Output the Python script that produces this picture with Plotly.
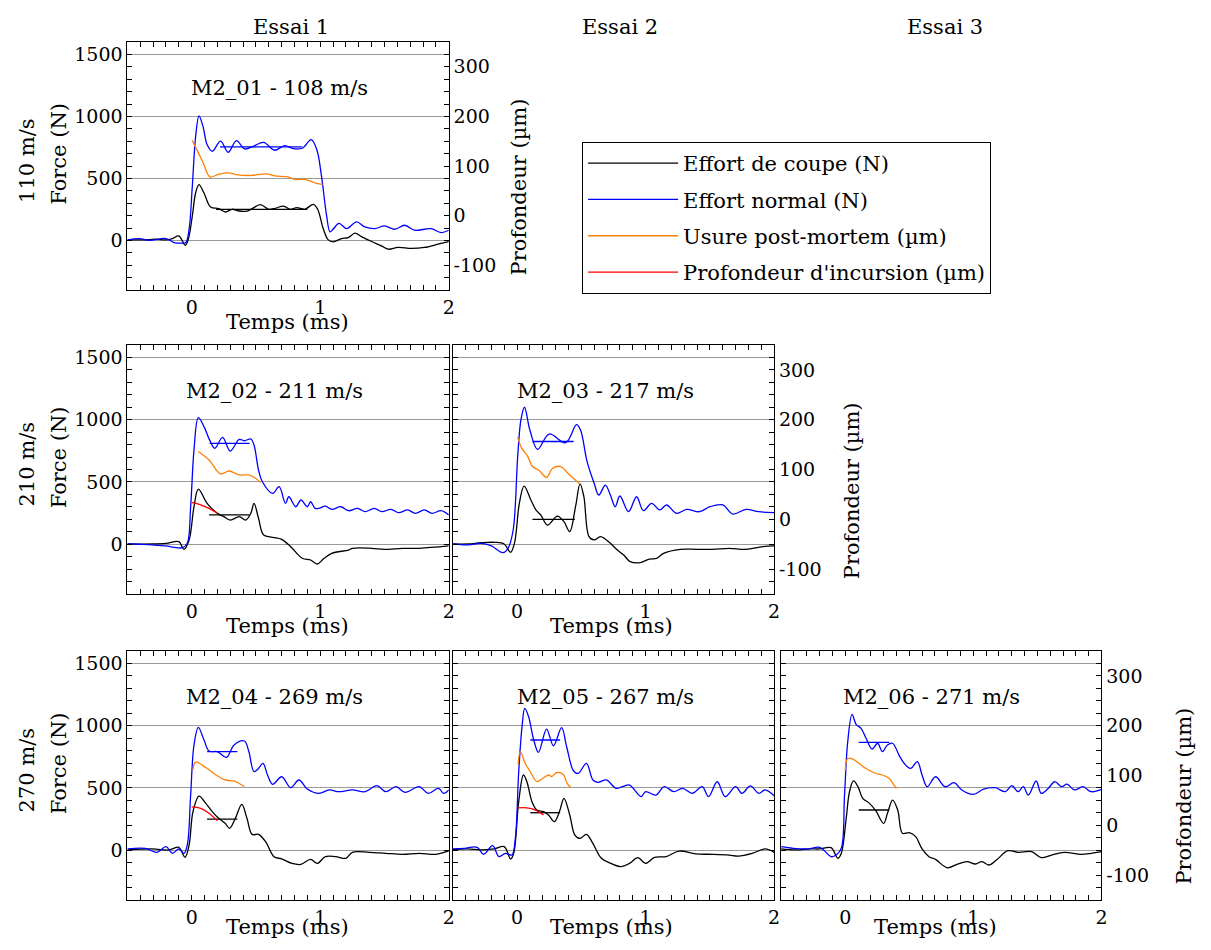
import plotly.graph_objects as go

# page body has an 8 px margin: the figure is sized to fit inside the window
OFF = 8
W, H = 1195, 934
FONT = "DejaVu Serif"

# ---------------- labels ----------------
essais = ["Essai 1", "Essai 2", "Essai 3"]
vitesses = ["110 m/s", "210 m/s", "270 m/s"]
series_names = ["Effort de coupe (N)", "Effort normal (N)",
                "Usure post-mortem (µm)", "Profondeur d'incursion (µm)"]
series_colors = ["#000000", "#0000ff", "#ff8000", "#ff0000"]
force_ticks = [0, 500, 1000, 1500]
depth_ticks = [-100, 0, 100, 200, 300]
time_ticks = [0, 1, 2]

# ---------------- M2_01 (110 m/s, essai 1) ----------------
m2_01_coupe = [(-0.5, 4), (-0.38, 4), (-0.28, 10), (-0.2, 4), (-0.15, 15), (-0.1, 36), (-0.05, -39),
               (-0.026, 10), (0.005, 197), (0.031, 384), (0.057, 449), (0.095, 384), (0.147, 269),
               (0.21, 256), (0.263, 229), (0.315, 251), (0.366, 237), (0.43, 237), (0.47, 256),
               (0.534, 288), (0.6, 251), (0.65, 259), (0.715, 277), (0.766, 251), (0.818, 264),
               (0.88, 251), (0.947, 291), (0.98, 251), (1.025, 90), (1.063, 4), (1.1, -12),
               (1.166, 15), (1.218, 23), (1.27, 58), (1.32, 31), (1.4, -9), (1.476, -44),
               (1.53, -71), (1.605, -57), (1.71, -65), (1.81, -57), (1.915, -31), (2.0, -9)]
m2_01_normal = [(-0.5, 4), (-0.41, 15), (-0.33, 0), (-0.2, 15), (-0.137, -17), (-0.085, -22),
                (-0.046, -17), (-0.02, 90), (0.005, 438), (0.031, 840), (0.057, 1005), (0.088, 920),
                (0.12, 773), (0.16, 719), (0.225, 800), (0.284, 711), (0.348, 805), (0.413, 738),
                (0.48, 759), (0.56, 791), (0.645, 727), (0.723, 765), (0.79, 741), (0.86, 743),
                (0.93, 813), (0.973, 733), (1.01, 518), (1.05, 197), (1.076, 69), (1.1, 90),
                (1.146, 138), (1.205, 95), (1.283, 149), (1.347, 109), (1.425, 95), (1.5, 117),
                (1.58, 90), (1.657, 122), (1.734, 82), (1.81, 90), (1.863, 95), (1.94, 63), (2.0, 82)]
m2_01_usure = [(0.003, 152), (0.04, 133), (0.09, 106), (0.142, 78), (0.207, 83), (0.284, 86),
               (0.36, 82), (0.465, 81), (0.58, 84), (0.646, 80), (0.75, 78), (0.8, 73), (0.88, 73),
               (0.93, 69), (0.97, 65), (1.02, 63)]
m2_01_incursion = []
m2_01_moy_coupe = [0.19, 0.90, 251]
m2_01_moy_normal = [0.22, 0.86, 754]

# ---------------- M2_02 (210 m/s, essai 1) ----------------
m2_02_coupe = [(-0.5, 2), (-0.306, 2), (-0.2, 7), (-0.1, 20), (-0.06, -41), (-0.02, 34), (0.018, 301),
               (0.052, 443), (0.12, 328), (0.2, 248), (0.25, 221), (0.3, 194), (0.37, 221), (0.42, 194),
               (0.46, 248), (0.485, 328), (0.52, 208), (0.56, 74), (0.63, 55), (0.7, 39), (0.77, -20),
               (0.86, -113), (0.925, -127), (0.977, -159), (1.03, -113), (1.09, -73), (1.22, -47),
               (1.25, -33), (1.4, -33), (1.5, -41), (1.64, -33), (1.77, -33), (2.0, -14)]
m2_02_normal = [(-0.5, 2), (-0.306, -6), (-0.2, -14), (-0.137, -25), (-0.07, -28), (-0.034, 7),
                (-0.008, 301), (0.018, 756), (0.052, 1016), (0.096, 944), (0.14, 836), (0.18, 770),
                (0.24, 858), (0.3, 748), (0.37, 842), (0.41, 831), (0.46, 845), (0.485, 797),
                (0.52, 596), (0.55, 502), (0.63, 408), (0.68, 462), (0.73, 328), (0.756, 381),
                (0.81, 301), (0.85, 355), (0.9, 301), (0.925, 341), (0.96, 288), (0.99, 288),
                (1.04, 306), (1.09, 280), (1.16, 301), (1.22, 269), (1.29, 288), (1.35, 261),
                (1.42, 288), (1.48, 261), (1.55, 280), (1.61, 253), (1.68, 275), (1.74, 248),
                (1.81, 275), (1.87, 248), (1.94, 269), (2.0, 235)]
m2_02_usure = [(0.05, 136), (0.135, 119), (0.225, 91), (0.29, 97), (0.37, 89), (0.445, 89),
               (0.5, 82), (0.536, 74)]
m2_02_incursion = [(0.0, 34), (0.07, 29), (0.135, 22), (0.2, 12)]
m2_02_moy_coupe = [0.135, 0.45, 235]
m2_02_moy_normal = [0.14, 0.45, 810]

# ---------------- M2_03 (210 m/s, essai 2) ----------------
m2_03_coupe = [(-0.5, 2), (-0.38, 2), (-0.28, 12), (-0.175, 15), (-0.1, 2), (-0.05, -65), (-0.02, 7),
               (0.018, 328), (0.055, 467), (0.108, 355), (0.147, 275), (0.185, 234), (0.237, 154),
               (0.314, 226), (0.365, 181), (0.41, 101), (0.455, 301), (0.49, 485), (0.52, 382),
               (0.56, 61), (0.6, 34), (0.65, 61), (0.726, 7), (0.78, -47), (0.83, -87), (0.88, -140),
               (0.96, -148), (1.03, -119), (1.086, -114), (1.14, -73), (1.27, -41), (1.4, -41),
               (1.52, -41), (1.65, -33), (1.78, -41), (1.91, -20), (2.0, -14)]
m2_03_normal = [(-0.5, 2), (-0.38, -6), (-0.28, 7), (-0.2, -14), (-0.11, -68), (-0.07, -33),
                (-0.03, 114), (0.005, 703), (0.03, 997), (0.058, 1100), (0.1, 917), (0.16, 762),
                (0.25, 885), (0.378, 815), (0.463, 960), (0.494, 917), (0.545, 663), (0.6, 489),
                (0.636, 395), (0.687, 475), (0.726, 395), (0.764, 301), (0.8, 387), (0.867, 261),
                (0.93, 381), (0.983, 269), (1.047, 328), (1.11, 275), (1.163, 315), (1.24, 248),
                (1.32, 280), (1.42, 261), (1.5, 301), (1.6, 315), (1.68, 242), (1.78, 280),
                (1.88, 261), (2.0, 253)]
m2_03_usure = [(0.005, 165), (0.036, 143), (0.082, 127), (0.12, 106), (0.172, 98), (0.23, 84),
               (0.275, 102), (0.34, 106), (0.39, 94), (0.44, 82), (0.49, 71)]
m2_03_incursion = []
m2_03_moy_coupe = [0.12, 0.45, 200]
m2_03_moy_normal = [0.12, 0.44, 825]

# ---------------- M2_04 (270 m/s, essai 1) ----------------
m2_04_coupe = [(-0.5, 2), (-0.306, 10), (-0.176, 2), (-0.1, 23), (-0.052, -57), (-0.02, 42), (0.01, 309),
               (0.057, 435), (0.11, 376), (0.16, 310), (0.21, 256), (0.26, 216), (0.295, 176),
               (0.34, 256), (0.39, 368), (0.43, 256), (0.47, 127), (0.52, 127), (0.575, 69),
               (0.64, -52), (0.7, -70), (0.78, -106), (0.85, -114), (0.925, -74), (0.977, -106),
               (1.04, -52), (1.12, -52), (1.2, -65), (1.25, -17), (1.38, -17), (1.51, -25),
               (1.64, -33), (1.77, -25), (1.9, -33), (2.0, -6)]
m2_04_normal = [(-0.5, 10), (-0.36, 15), (-0.27, -17), (-0.2, 28), (-0.15, -25), (-0.1, 10),
                (-0.06, -25), (-0.034, 42), (-0.008, 443), (0.018, 845), (0.052, 987), (0.096, 885),
                (0.135, 797), (0.2, 791), (0.27, 746), (0.33, 845), (0.41, 877), (0.445, 791),
                (0.485, 631), (0.52, 657), (0.555, 698), (0.59, 604), (0.63, 529), (0.7, 590),
                (0.77, 502), (0.834, 564), (0.9, 492), (0.99, 457), (1.07, 484), (1.145, 470),
                (1.25, 484), (1.35, 470), (1.44, 518), (1.51, 470), (1.59, 510), (1.66, 465),
                (1.77, 510), (1.84, 457), (1.92, 497), (1.96, 457), (2.0, 484)]
m2_04_usure = [(0.01, 111), (0.03, 127), (0.11, 116), (0.19, 101), (0.26, 91), (0.33, 89),
               (0.37, 84), (0.41, 78)]
m2_04_incursion = [(0.0, 37), (0.07, 34), (0.135, 24), (0.2, 9)]
m2_04_moy_coupe = [0.12, 0.355, 250]
m2_04_moy_normal = [0.12, 0.355, 791]

# ---------------- M2_05 (270 m/s, essai 2) ----------------
m2_05_coupe = [(-0.5, 2), (-0.386, 10), (-0.283, 2), (-0.18, 10), (-0.1, 28), (-0.05, -71), (-0.026, -25),
               (0.013, 390), (0.05, 604), (0.077, 550), (0.116, 390), (0.154, 323), (0.206, 310),
               (0.245, 283), (0.29, 229), (0.33, 310), (0.365, 417), (0.41, 283), (0.45, 122),
               (0.49, 95), (0.54, 127), (0.59, 55), (0.656, -65), (0.73, -106), (0.81, -132),
               (0.875, -106), (0.94, -60), (1.0, -106), (1.07, -57), (1.16, -52), (1.26, -7),
               (1.39, -30), (1.52, -33), (1.65, -39), (1.72, -47), (1.83, -25), (1.93, 10), (2.0, -17)]
m2_05_normal = [(-0.5, 10), (-0.41, 15), (-0.31, 23), (-0.26, -33), (-0.19, 36), (-0.14, -52),
                (-0.09, -25), (-0.04, -39), (-0.013, 95), (0.013, 630), (0.04, 1005), (0.06, 1139),
                (0.09, 1072), (0.13, 885), (0.167, 786), (0.23, 973), (0.283, 839), (0.347, 984),
                (0.386, 831), (0.44, 636), (0.476, 617), (0.54, 698), (0.59, 564), (0.63, 545),
                (0.695, 564), (0.77, 497), (0.82, 510), (0.875, 523), (0.965, 430), (1.0, 470),
                (1.08, 443), (1.145, 510), (1.22, 470), (1.287, 497), (1.364, 457), (1.44, 510),
                (1.49, 430), (1.557, 550), (1.62, 430), (1.7, 510), (1.75, 457), (1.815, 516),
                (1.88, 457), (1.93, 484), (2.0, 437)]
m2_05_usure = [(0.008, 122), (0.026, 148), (0.064, 124), (0.1, 109), (0.154, 88), (0.193, 93),
               (0.245, 101), (0.27, 98), (0.31, 106), (0.36, 102), (0.39, 84), (0.417, 76)]
m2_05_incursion = [(0.008, 35), (0.077, 35), (0.14, 31), (0.206, 21)]
m2_05_moy_coupe = [0.103, 0.335, 301]
m2_05_moy_normal = [0.103, 0.335, 885]

# ---------------- M2_06 (270 m/s, essai 3) ----------------
m2_06_coupe = [(-0.5, 10), (-0.38, 2), (-0.276, 10), (-0.2, 10), (-0.11, 20), (-0.057, -65), (-0.03, -25),
               (0.008, 256), (0.034, 470), (0.065, 556), (0.1, 510), (0.137, 417), (0.19, 376),
               (0.24, 315), (0.3, 216), (0.33, 296), (0.37, 403), (0.41, 323), (0.447, 136),
               (0.5, 141), (0.55, 109), (0.6, 10), (0.654, -52), (0.705, -74), (0.796, -141),
               (0.873, -114), (0.95, -92), (1.016, -111), (1.067, -92), (1.12, -119), (1.18, -79),
               (1.27, -4), (1.35, -17), (1.455, -12), (1.53, -60), (1.61, -39), (1.71, -17),
               (1.84, -33), (1.92, -25), (2.0, -12)]
m2_06_normal = [(-0.5, 28), (-0.406, 15), (-0.3, 10), (-0.2, 23), (-0.16, -6), (-0.11, -52),
                (-0.07, -39), (-0.03, 15), (-0.005, 443), (0.02, 872), (0.054, 1091), (0.085, 1011),
                (0.124, 979), (0.163, 899), (0.21, 813), (0.253, 859), (0.29, 791), (0.33, 845),
                (0.37, 859), (0.42, 764), (0.46, 698), (0.51, 657), (0.563, 711), (0.6, 604),
                (0.64, 510), (0.705, 590), (0.78, 510), (0.85, 542), (0.91, 484), (1.0, 448),
                (1.08, 491), (1.17, 502), (1.25, 470), (1.3, 518), (1.35, 470), (1.39, 510),
                (1.43, 443), (1.49, 556), (1.53, 457), (1.58, 491), (1.635, 550), (1.69, 510),
                (1.73, 531), (1.79, 484), (1.855, 510), (1.92, 470), (2.0, 489)]
m2_06_usure = [(0.0, 109), (0.02, 134), (0.06, 133), (0.11, 124), (0.163, 114), (0.24, 104),
               (0.29, 101), (0.344, 94), (0.38, 81), (0.4, 74)]
m2_06_incursion = []
m2_06_moy_coupe = [0.106, 0.344, 323]
m2_06_moy_normal = [0.106, 0.344, 866]

panels = [
    ("M2_01 - 108 m/s", 0, 0, m2_01_coupe, m2_01_normal, m2_01_usure, m2_01_incursion, m2_01_moy_coupe, m2_01_moy_normal),
    ("M2_02 - 211 m/s", 1, 0, m2_02_coupe, m2_02_normal, m2_02_usure, m2_02_incursion, m2_02_moy_coupe, m2_02_moy_normal),
    ("M2_03 - 217 m/s", 1, 1, m2_03_coupe, m2_03_normal, m2_03_usure, m2_03_incursion, m2_03_moy_coupe, m2_03_moy_normal),
    ("M2_04 - 269 m/s", 2, 0, m2_04_coupe, m2_04_normal, m2_04_usure, m2_04_incursion, m2_04_moy_coupe, m2_04_moy_normal),
    ("M2_05 - 267 m/s", 2, 1, m2_05_coupe, m2_05_normal, m2_05_usure, m2_05_incursion, m2_05_moy_coupe, m2_05_moy_normal),
    ("M2_06 - 271 m/s", 2, 2, m2_06_coupe, m2_06_normal, m2_06_usure, m2_06_incursion, m2_06_moy_coupe, m2_06_moy_normal),
]
last_col_in_row = {0: 0, 1: 1, 2: 2}

# ---------------- geometry (window pixels) ----------------
col_x = [(128, 451), (455, 778), (785, 1107)]
row_y = [(42, 290), (345, 594), (651, 900)]
essai_x = [292, 623, 950]
title_x = [[281, None, None], [276, 609, None], [276, 609, 936]]
temps_x = [289, 615, 940]
profondeur_x = [522, 856, 1189]


def px(x):
    return (x - OFF) / W


def py(y):
    return 1 - (y - OFF) / H


fig = go.Figure()
shown = set()
layout = {}
annotations = []
TICKFONT = dict(family=FONT, size=19, color="black")
TXT = dict(family=FONT, size=21, color="black")
LW = 1.3


def note(text, x, y, angle=0):
    annotations.append(dict(text=text, x=px(x), y=py(y), xref="paper", yref="paper",
                            xanchor="center", yanchor="middle", showarrow=False,
                            textangle=angle, font=TXT))


for k, (title, r, c, coupe, normal, usure, incursion, moy_c, moy_n) in enumerate(panels):
    xn = k + 1
    yl = 2 * k + 1
    yr = 2 * k + 2
    xref = "x" if xn == 1 else f"x{xn}"
    ylref = "y" if yl == 1 else f"y{yl}"
    yrref = f"y{yr}"
    x0, x1 = col_x[c]
    y0, y1 = row_y[r]

    def add(points, idx, yaxis, rank):
        if not points:
            return
        name = series_names[idx]
        show = name not in shown
        shown.add(name)
        fig.add_trace(go.Scatter(
            x=[p[0] for p in points], y=[p[1] for p in points], mode="lines",
            line=dict(color=series_colors[idx], width=LW, shape="spline", smoothing=1.0),
            name=name, showlegend=show, legendrank=rank, legendgroup=name,
            xaxis=xref, yaxis=yaxis, hoverinfo="skip"))

    add(coupe, 0, ylref, 1)
    add(normal, 1, ylref, 2)
    add(usure, 2, yrref, 3)
    add(incursion, 3, yrref, 4)
    for moy, idx in ((moy_c, 0), (moy_n, 1)):
        fig.add_trace(go.Scatter(
            x=[moy[0], moy[1]], y=[moy[2], moy[2]], mode="lines",
            line=dict(color=series_colors[idx], width=LW), showlegend=False,
            xaxis=xref, yaxis=ylref, hoverinfo="skip"))

    xkey = "xaxis" if xn == 1 else f"xaxis{xn}"
    ylkey = "yaxis" if yl == 1 else f"yaxis{yl}"
    yrkey = f"yaxis{yr}"
    layout[xkey] = dict(
        domain=[px(x0), px(x1)], anchor=ylref, range=[-0.5, 2],
        tickmode="array", tickvals=time_ticks, ticktext=[str(v) for v in time_ticks],
        ticks="inside", ticklen=5, tickcolor="black",
        minor=dict(ticks="inside", dtick=0.1, tick0=0, ticklen=5, tickcolor="black"),
        showline=True, linecolor="black", linewidth=1, mirror="ticks",
        showgrid=False, zeroline=False, tickfont=TICKFONT)
    layout[ylkey] = dict(
        domain=[py(y1), py(y0)], anchor=xref, range=[-400, 1600],
        tickmode="array", tickvals=force_ticks, ticktext=[str(v) for v in force_ticks],
        ticks="inside", ticklen=5, tickcolor="black",
        minor=dict(ticks="inside", dtick=100, tick0=0, ticklen=5, tickcolor="black"),
        showticklabels=(c == 0), showline=True, linecolor="black", linewidth=1,
        showgrid=True, gridcolor="#9a9a9a", gridwidth=1, zeroline=False, tickfont=TICKFONT)
    layout[yrkey] = dict(
        overlaying=ylref, anchor=xref, side="right", range=[-150, 350],
        tickmode="array", tickvals=depth_ticks, ticktext=[str(v) for v in depth_ticks],
        ticks="inside", ticklen=5, tickcolor="black",
        minor=dict(ticks="inside", dtick=25, tick0=0, ticklen=5, tickcolor="black"),
        showticklabels=(c == last_col_in_row[r]), showline=True, linecolor="black", linewidth=1,
        showgrid=False, zeroline=False, tickfont=TICKFONT)

    note(title, title_x[r][c], y0 + 46)
    note("Temps (ms)", temps_x[c], min(y1 + 32, 927))
    if c == last_col_in_row[r]:
        note("Profondeur (µm)", profondeur_x[r], (y0 + y1) / 2 + 21, -90)

for j, e in enumerate(essais):
    note(e, essai_x[j], 27)
for i, v in enumerate(vitesses):
    y0, y1 = row_y[i]
    note(v, 27, (y0 + y1) / 2 - 6, -90)
    note("Force (N)", 59, (y0 + y1) / 2 - 12, -90)

fig.update_layout(
    width=W, height=H, margin=dict(l=0, r=0, t=0, b=0),
    paper_bgcolor="white", plot_bgcolor="white",
    font=TXT,
    showlegend=True,
    legend=dict(x=px(585), y=py(142), xanchor="left", yanchor="top",
                bordercolor="black", borderwidth=1, bgcolor="white",
                font=TXT, itemwidth=90, tracegroupgap=6, traceorder="grouped"),
    annotations=annotations,
    **layout)

fig.write_html("out.html")
